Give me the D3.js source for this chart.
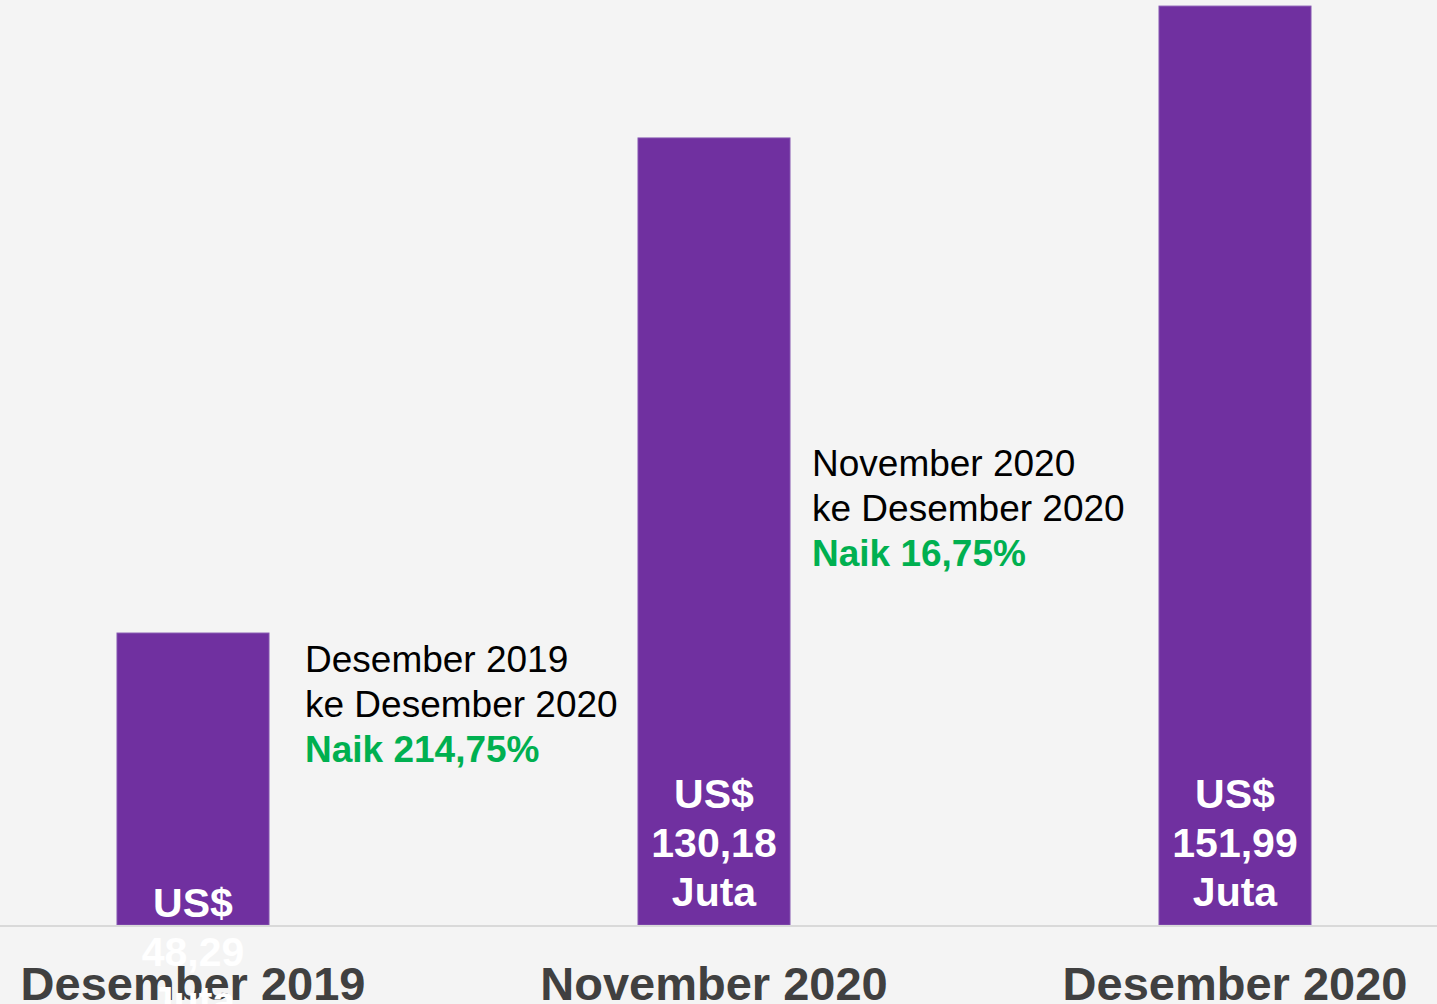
<!DOCTYPE html>
<html>
<head>
<meta charset="utf-8">
<script src="https://cdn.jsdelivr.net/npm/d3@7"></script>
<style>
  html, body { margin: 0; padding: 0; background: #f4f4f4; overflow: hidden; }
  svg { display: block; font-family: "Liberation Sans", Arial, sans-serif; }
</style>
</head>
<body>
<script>
// data
const categories = ["Desember 2019", "November 2020", "Desember 2020"];
const values = [48.29, 130.18, 151.99];
const valueLabels = ["48,29", "130,18", "151,99"];
const notes = [
  { after: 0, lines: ["Desember 2019", "ke Desember 2020"], change: "Naik 214,75%" },
  { after: 1, lines: ["November 2020", "ke Desember 2020"], change: "Naik 16,75%" }
];

const W = 1437, H = 1004;
const base = 925, barW = 152;

const svg = d3.select("body").append("svg").attr("width", W).attr("height", H);
svg.append("rect").attr("width", W).attr("height", H).attr("fill", "#f4f4f4");

const x = d3.scalePoint().domain(categories).range([193, 1235]);
const y = d3.scaleLinear().domain([0, 153]).range([base, 0]);

// x labels
svg.selectAll("text.cat").data(categories).enter()
  .append("text").attr("class", "cat")
  .attr("x", d => x(d)).attr("y", 1000)
  .attr("text-anchor", "middle")
  .attr("font-size", 47).attr("font-weight", "bold")
  .attr("fill", "#404040")
  .text(d => d);

// bars
svg.selectAll("rect.bar").data(values).enter()
  .append("rect").attr("class", "bar")
  .attr("x", (d, i) => x(categories[i]) - barW / 2)
  .attr("y", d => y(d))
  .attr("width", barW)
  .attr("height", d => base - y(d))
  .attr("fill", "#7030a0")
  .attr("stroke", "#8455b0").attr("stroke-width", 1);

// baseline
svg.append("line")
  .attr("x1", 0).attr("x2", W)
  .attr("y1", base + 1).attr("y2", base + 1)
  .attr("stroke", "#d9d9d9").attr("stroke-width", 2);

// value labels inside bars
const lab = svg.selectAll("text.val").data(values).enter()
  .append("text").attr("class", "val")
  .attr("text-anchor", "middle")
  .attr("font-size", 41).attr("font-weight", "bold")
  .attr("fill", "#ffffff");
lab.each(function (d, i) {
  const t = d3.select(this);
  // first bar is short, its label sits lower
  const y0 = i === 0 ? base - 8 : base - 117;
  ["US$", valueLabels[i], "Juta"].forEach((s, k) => {
    t.append("tspan").attr("x", x(categories[i])).attr("y", y0 + k * 49).text(s);
  });
});

// change notes
const noteX = [305, 812];
const noteY = [672, 476];
notes.forEach((n, j) => {
  const g = svg.append("text").attr("font-size", 37);
  n.lines.forEach((s, k) => {
    g.append("tspan").attr("x", noteX[j]).attr("y", noteY[j] + k * 45)
      .attr("fill", "#000").text(s);
  });
  g.append("tspan").attr("x", noteX[j]).attr("y", noteY[j] + 90)
    .attr("fill", "#00b050").attr("font-weight", "bold").text(n.change);
});
</script>
</body>
</html>
